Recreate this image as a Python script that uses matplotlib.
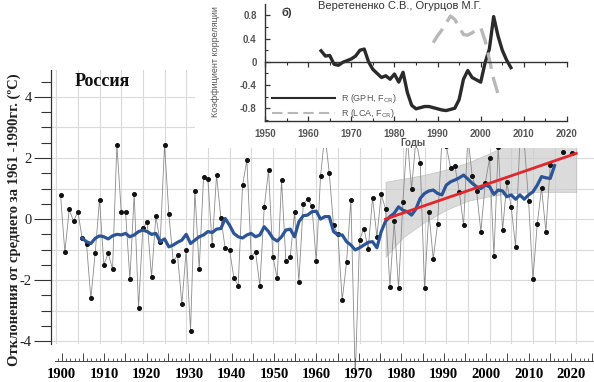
import numpy as np
import matplotlib
matplotlib.use("Agg")
from matplotlib import pyplot as plt
from matplotlib.patches import Rectangle
from matplotlib.lines import Line2D
from matplotlib.ticker import MultipleLocator, FuncFormatter

plt.rcParams["font.family"] = ["Liberation Serif", "DejaVu Serif"]
plt.rcParams["axes.unicode_minus"] = False

# ---- main series: annual anomalies, Russia ----
years = np.arange(1901, 2015)
temp = np.array([
    0.79, -1.09, 0.32, -0.07, 0.24, -0.63, -0.83, -2.60, -1.11, 0.64,     # 1901-1910
    -1.49, -1.12, -1.64, 2.44, 0.24, 0.24, -1.97, 0.82, -2.91, -0.28,     # 1911-1920
    -0.11, -1.89, 0.10, -0.75, 2.44, 0.15, -1.37, -1.19, -2.78, -1.01,    # 1921-1930
    -3.66, 0.93, -1.64, 1.39, 1.30, -0.85, 1.44, 0.04, -0.96, -1.01,      # 1931-1940
    -1.92, -2.18, 1.10, 1.93, -1.23, -1.07, -2.19, 0.38, 1.60, -1.23,     # 1941-1950
    -1.94, 1.28, -1.37, -1.25, 0.22, -2.05, 0.48, 0.66, 0.44, -1.37,      # 1951-1960
    1.40, 2.80, 1.52, -0.21, -0.50, -2.65, -1.42, 0.64, -5.20, -0.67,     # 1961-1970
    -0.31, -0.98, 0.70, -0.58, 0.81, 0.33, -2.21, -0.07, -2.27, 0.57,     # 1971-1980
    2.70, 0.97, 2.60, 1.85, -2.27, 0.22, -1.30, -0.17, 2.60, 2.40,        # 1981-1990
    1.68, 1.75, 0.90, -0.20, 2.70, 1.40, 0.92, -0.41, 1.18, 1.99,         # 1991-2000
    -1.20, 2.35, -0.36, 1.20, 0.39, -0.91, 2.60, 2.50, 0.60, -1.97,       # 2001-2010
    -0.17, 1.02, -0.41, 1.76,                                             # 2011-2014
])
extra_years = [2017, 2019]
extra_vals = [2.20, 2.15]

# smoothed curve (blue)
smooth_years = np.arange(1906, 2016)
smooth = np.array([
    -0.63, -0.74, -0.80, -0.63, -0.55, -0.58, -0.65, -0.55, -0.50, -0.52,  # 1906-1915
    -0.47, -0.58, -0.52, -0.41, -0.36, -0.41, -0.50, -0.47, -0.74, -0.65,  # 1916-1925
    -0.91, -0.85, -0.76, -0.69, -0.50, -0.80, -0.69, -0.58, -0.52, -0.41,  # 1926-1935
    -0.44, -0.33, -0.31, 0.02, -0.20, -0.47, -0.58, -0.62, -0.52, -0.47,   # 1936-1945
    -0.58, -0.52, -0.25, -0.41, -0.63, -0.72, -0.58, -0.36, -0.33, -0.58,  # 1946-1955
    -0.09, 0.11, 0.13, 0.24, 0.26, 0.00, 0.08, 0.08, -0.41, -0.52,         # 1956-1965
    -0.52, -0.74, -0.85, -1.01, -0.94, -0.85, -0.76, -0.74, -0.94, -0.41,  # 1966-1975
    -0.07, 0.08, 0.19, 0.40, 0.29, 0.24, 0.13, 0.33, 0.68, 0.84,           # 1976-1985
    0.92, 0.95, 0.84, 0.79, 1.11, 1.22, 1.28, 1.35, 1.44, 1.31,            # 1986-1995
    1.17, 1.06, 1.00, 1.11, 1.06, 0.81, 0.95, 0.92, 0.73, 0.79,            # 1996-2005
    0.65, 0.79, 0.65, 0.79, 0.89, 1.11, 1.39, 1.35, 1.33, 1.75,            # 2006-2015
])

# linear trend (red) and its band (gray)
trend_years = [1976, 2020]
trend_vals = [0.0, 2.15]
band_years = [1976, 1980, 1985, 1990, 1995, 2000, 2005, 2010, 2015, 2020]
band_lo = [-1.23, -0.60, -0.10, 0.30, 0.60, 0.75, 0.85, 0.89, 0.89, 0.89]
band_hi = [1.22, 1.32, 1.45, 1.62, 1.85, 2.15, 2.50, 2.85, 3.20, 3.50]

main_yticks = [-4, -2, 0, 2, 4]
ruler_ticks = [1900, 1910, 1920, 1930, 1940, 1950, 1960, 1970, 1980, 1990, 2000, 2010, 2020]

# ---- inset: correlation coefficients ----
gph_years = np.arange(1963, 2008)
gph = [0.19, 0.10, 0.11, -0.04, -0.06, -0.01, 0.02, 0.05, 0.10, 0.20,
       0.22, 0.00, -0.13, -0.20, -0.27, -0.24, -0.30, -0.21, -0.35, -0.18,
       -0.53, -0.75, -0.81, -0.79, -0.77, -0.77, -0.79, -0.81, -0.83, -0.84,
       -0.82, -0.80, -0.65, -0.30, -0.15, -0.27, -0.31, -0.35, -0.02, 0.22,
       0.78, 0.45, 0.20, 0.03, -0.10]
lca_years = np.arange(1989, 2005)
lca = [0.33, 0.45, 0.55, 0.67, 0.79, 0.73, 0.60, 0.47, 0.46, 0.50,
       0.55, 0.59, 0.37, 0.05, -0.30, -0.55]
inset_yticks = [-0.8, -0.4, 0, 0.4, 0.8]
inset_ylabels = ["-0.8", "-0.4", "0", "0.4", "0.8"]

W, H = 594, 382
def fx(px):
    return px / W
def fy(py):
    return 1 - py / H

fig = plt.figure(figsize=(5.94, 3.82), dpi=100)

# main axes
ax = fig.add_axes([fx(51), fy(344), fx(594) - fx(51), (344 - 70) / H], zorder=0)
ax.set_xlim(1898.8, 2024.1)
ax.set_ylim(-4.09, 4.88)
ax.set_axisbelow(True)
for s in ["top", "right", "bottom"]:
    ax.spines[s].set_visible(False)
ax.spines["left"].set_color("#333333")
ax.spines["left"].set_linewidth(0.9)
ax.set_xticks(np.arange(1900, 2025, 5))
ax.tick_params(axis="x", length=0, labelbottom=False)
ax.grid(axis="x", color="#dadada", lw=0.8)
for v in range(-4, 5):
    ax.axhline(v, color="#dadada", lw=0.8, zorder=0.5)
ax.set_yticks(main_yticks)
ax.set_yticklabels([str(v) for v in main_yticks])
ax.yaxis.set_minor_locator(MultipleLocator(0.5))
ax.tick_params(axis="y", which="major", length=12, width=0.8, color="#333333",
               labelsize=10.5, pad=2, labelcolor="#222222")
ax.tick_params(axis="y", which="minor", length=7, width=0.8, color="#333333")

ax.fill_between(band_years, band_lo, band_hi, color="#cccccc", alpha=0.7,
                edgecolor="#bbbbbb", lw=0.6, zorder=1)
ax.plot(years, temp, color="#8a8a8a", lw=0.6, clip_on=False, zorder=2)
inside = temp > -4.09
ax.plot(years[inside], temp[inside], "o", ms=2.6, color="#111111", zorder=3)
ax.plot(extra_years, extra_vals, "o", ms=2.6, color="#111111", zorder=3)
ax.plot(smooth_years, smooth, color="#2b5597", lw=2.3, zorder=4)
ax.plot(trend_years, trend_vals, color="#e3262b", lw=2.0, zorder=5)

fig.text(fx(75), fy(82), "Россия", fontsize=13, fontweight="bold",
         va="center", ha="left", color="#111111")
fig.text(fx(14), fy(220), "Отклонения от среднего за 1961 -1990гг. (ºC)",
         rotation=90, fontsize=10.5, fontweight="bold", va="center", ha="center",
         color="#222222")

# bottom ruler with year labels
rl = fig.add_axes([fx(55), fy(361), fx(594) - fx(55), 10 / H], zorder=0)
rl.set_xlim(1898.4, 2025.4)
rl.set_ylim(0, 1)
rl.patch.set_visible(False)
for s in ["top", "right", "left"]:
    rl.spines[s].set_visible(False)
rl.spines["bottom"].set_color("#444444")
rl.spines["bottom"].set_linewidth(0.7)
rl.set_yticks([])
rl.xaxis.set_major_locator(MultipleLocator(5))
rl.xaxis.set_minor_locator(MultipleLocator(1))
rl.xaxis.set_major_formatter(FuncFormatter(
    lambda v, p: str(int(round(v))) if int(round(v)) in ruler_ticks else ""))
rl.tick_params(axis="x", which="major", direction="in", length=5.5, width=0.7,
               color="#444444", labelsize=10.5, pad=5)
rl.tick_params(axis="x", which="minor", direction="in", length=2.5, width=0.6,
               color="#444444")
for lab in rl.get_xticklabels():
    lab.set_fontweight("bold")

# white backing behind the inset
fig.patches.append(Rectangle((fx(195), fy(148)), 1 - fx(195), 148 / H,
                             transform=fig.transFigure, facecolor="white",
                             edgecolor="none", zorder=1))

# inset
sans = ["Liberation Sans", "DejaVu Sans"]
ins = fig.add_axes([fx(265), fy(121), fx(567) - fx(265), (121 - 4.4) / H], zorder=2)
ins.patch.set_visible(False)
ins.set_xlim(1950, 2020)
ins.set_ylim(-1.02, 0.99)
ins.spines["right"].set_visible(False)
ins.spines["top"].set_position(("data", 0))
for s in ["top", "bottom", "left"]:
    ins.spines[s].set_color("#333333")
    ins.spines[s].set_linewidth(1.0)
ins.xaxis.set_major_locator(MultipleLocator(10))
ins.xaxis.set_minor_locator(MultipleLocator(5))
ins.set_yticks(inset_yticks)
ins.set_yticklabels(inset_ylabels)
ins.yaxis.set_minor_locator(MultipleLocator(0.2))
ins.tick_params(which="both", direction="in", top=True, color="#333333")
ins.tick_params(which="major", length=3.5, width=0.9, labelsize=7, pad=6,
                labelcolor="#555555")
ins.tick_params(which="minor", length=2, width=0.8)
for lab in ins.get_xticklabels() + ins.get_yticklabels():
    lab.set_family(sans)
    lab.set_fontweight("bold")

ins.plot(gph_years, gph, color="#2a2a2a", lw=2.4)
ins.plot(lca_years, lca, color="#b8b8b8", lw=2.4, dashes=(5, 2.5))
handles = [Line2D([], [], color="#2a2a2a", lw=1.5),
           Line2D([], [], color="#b8b8b8", lw=1.5, dashes=(5, 2.5))]
leg = ins.legend(handles, [r"R (GPH, F$_{\rm CR}$)", r"R (LCA, F$_{\rm CR}$)"],
                 loc="lower left", bbox_to_anchor=(0.02, 0.0), frameon=False,
                 handlelength=7, handletextpad=0.6, labelspacing=0.2,
                 borderpad=0.1, borderaxespad=0,
                 prop={"family": sans, "size": 6.5})
for t in leg.get_texts():
    t.set_color("#555555")

fig.text(fx(215), fy(62), "Коэффициент корреляции", rotation=90, fontsize=6.5,
         family=sans, color="#555555", va="center", ha="center", zorder=3)
fig.text(fx(413), fy(143), "Годы", fontsize=7, family=sans, color="#555555",
         va="center", ha="center", fontweight="bold", zorder=3)
fig.text(fx(282), fy(13), "б)", fontsize=8, family=sans, color="#333333",
         va="center", ha="left", fontweight="bold", zorder=3)
fig.text(fx(400), fy(6), "Веретененко С.В., Огурцов М.Г.", fontsize=8,
         family=sans, color="#333333", va="center", ha="center", zorder=3)

fig.savefig("out.png", dpi=100)
